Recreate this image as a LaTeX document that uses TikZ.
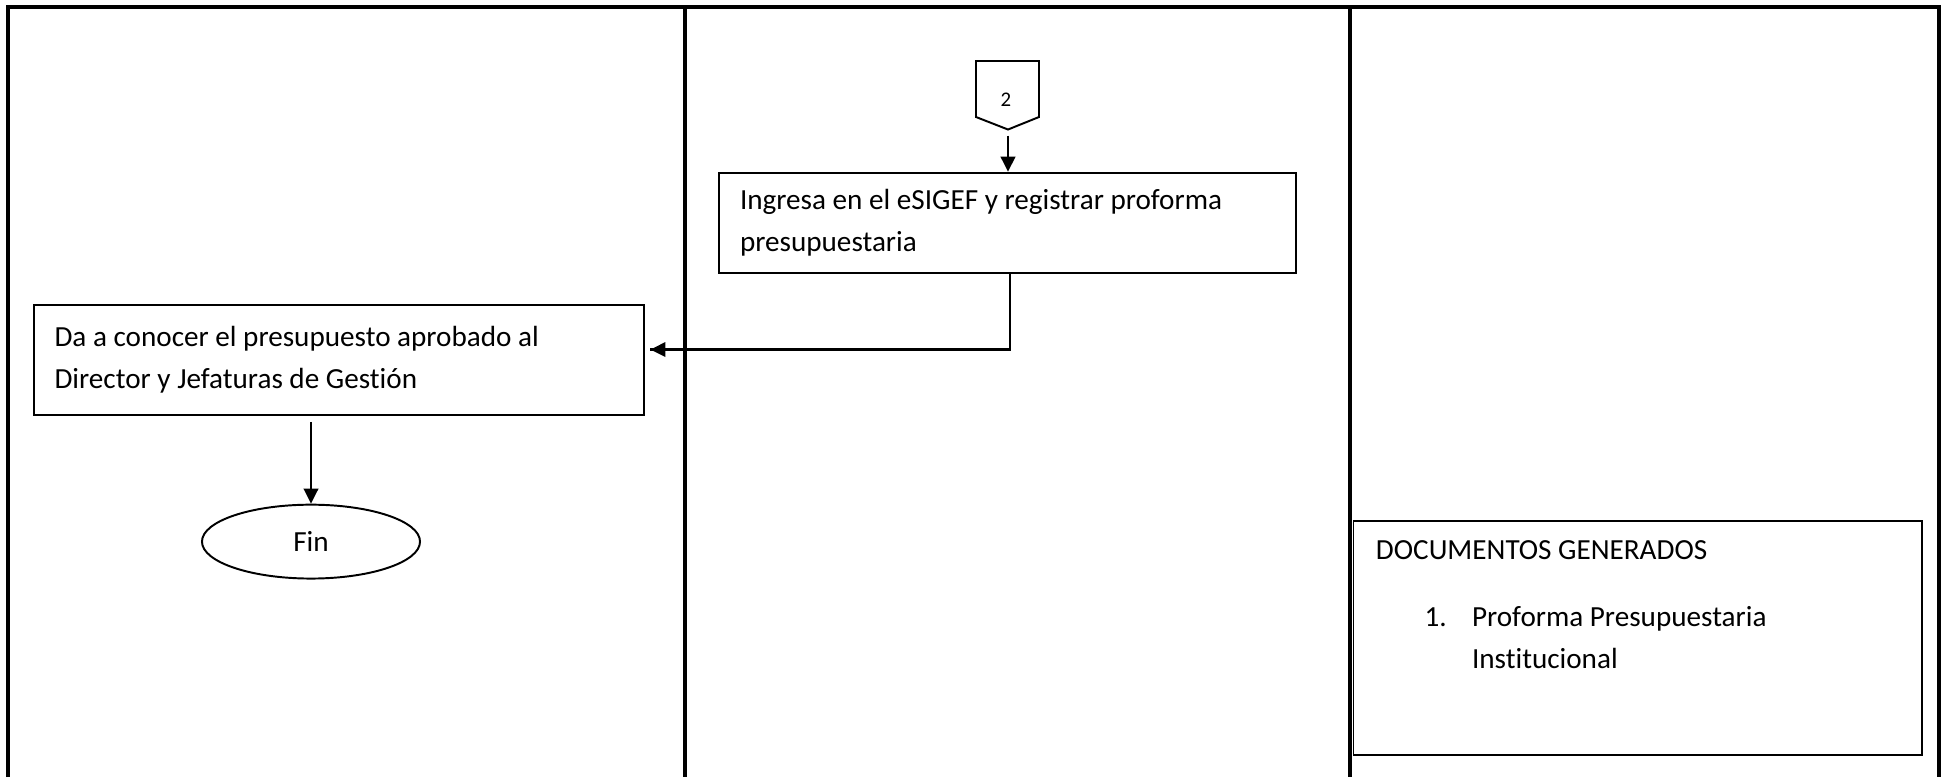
\documentclass[tikz,border=0pt]{standalone}
\usepackage{fontspec}
\setmainfont{Carlito}[Ligatures=NoCommon]
\usetikzlibrary{arrows.meta,shapes.geometric}
\begin{document}
\begin{tikzpicture}[x=0.36pt,y=-0.36pt,
  lane/.style={line width=1.1pt},
  bodyfont/.style={font=\fontsize{10.5}{15.1}\selectfont},
  stepbox/.style={draw,line width=0.7pt,rectangle,align=flush left,inner xsep=7.56pt,
    inner ysep=0pt,bodyfont},
  flow/.style={line width=0.8pt,-{Triangle[length=5.4pt,width=5.2pt]}},
  txt/.style={inner sep=0pt,bodyfont}]
\useasboundingbox (0,0) rectangle (1942,777);
\fill[white] (0,0) rectangle (1942,777);

% swimlanes (open at the bottom)
\draw[lane] (8,777) -- (8,7) -- (1939,7) -- (1939,777);
\draw[lane] (685,7) -- (685,777);
\draw[lane] (1350,7) -- (1350,777);

% off-page connector 2
\draw[line width=0.7pt] (976,61) -- (1039,61) -- (1039,117) -- (1008,129.5)
  -- (976,117) -- cycle;
\coordinate (c2tip) at (1008,129.5);
\node[inner sep=0pt,font=\fontsize{7.5}{9}\selectfont] (c2) at (1006,100) {2};

% process steps
\node[stepbox,text width=192.6pt,minimum height=36pt] (ing) at (1007.5,222.7)
  {Ingresa en el eSIGEF y registrar proforma\\presupuestaria};
\node[stepbox,text width=204.8pt,minimum height=39.6pt] (da) at (339,359.8)
  {Da a conocer el presupuesto aprobado al\\Director y Jefaturas de Gestión};
\node[draw,ellipse,line width=0.7pt,minimum width=78.5pt,minimum height=26.6pt,
  inner sep=0pt,bodyfont] (fin) at (311,541.6) {Fin};

% connectors
\draw[flow] ([yshift=-2.2pt]c2tip) -- (c2tip |- ing.north);
\draw[line width=0.8pt] ([xshift=1pt]ing.south) |- ([xshift=1.8pt,yshift=3.7pt]da.east) coordinate (daIn);
\draw[flow] ([xshift=1pt]ing.south |- daIn) -- (daIn);
\draw[flow] ([yshift=-2.2pt]da.south -| fin.north) -- (fin.north);

% generated documents
\node[draw,rectangle,line width=0.7pt,minimum width=204.5pt,minimum height=84.5pt,
  inner sep=0pt] (docs) at (1637.5,638) {};
\node[txt,anchor=base west] (docshead) at (1375.4,559.3) {DOCUMENTOS GENERADOS};
\node[txt,anchor=base west] (docnum) at (1424,626.7) {1.};
\node[txt,anchor=base west] (docone) at (1471.5,626.7) {Proforma Presupuestaria};
\node[txt,anchor=base west] (doconeb) at (1471.5,668.3) {Institucional};
\end{tikzpicture}
\end{document}
